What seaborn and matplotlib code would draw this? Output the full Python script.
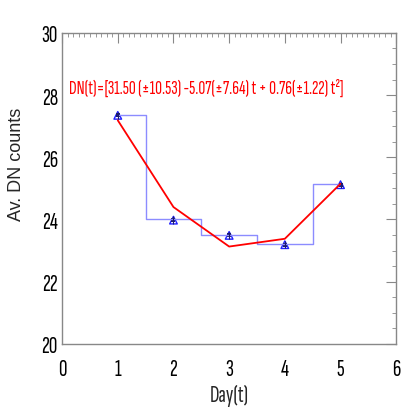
import numpy as np
import pandas as pd
import seaborn as sns
import matplotlib
matplotlib.use("Agg")
import matplotlib.pyplot as plt
from matplotlib.ticker import MultipleLocator

days = [1, 2, 3, 4, 5]
dn_counts = [27.35, 23.98, 23.49, 23.19, 25.12]
dn_step = [27.37, 24.02, 23.51, 23.22, 25.13]
dn_fit = [27.19, 24.40, 23.13, 23.38, 25.15]
dn_err = [0.12, 0.12, 0.12, 0.12, 0.10]
equation = "DN(t)=[31.50 (±10.53) -5.07(±7.64) t + 0.76(±1.22) t²]"

df = pd.DataFrame({"day": days, "counts": dn_counts, "step": dn_step, "fit": dn_fit})

sns.set_style("white")
narrow = ["Sofia Sans Extra Condensed", "DejaVu Sans"]
plt.rcParams["font.family"] = narrow

fig = plt.figure(figsize=(4.14, 4.14), dpi=100)
ax = fig.add_axes([0.150, 0.167, 0.807, 0.751])

ax.plot(df["day"], df["step"], drawstyle="steps-mid", color="#8c8cff", lw=1)
sns.lineplot(data=df, x="day", y="fit", color="red", lw=1.3, ax=ax)
ax.errorbar(df["day"], df["counts"], yerr=dn_err, fmt="none", ecolor="#1a1a6e", lw=0.8)
sns.scatterplot(data=df, x="day", y="counts", marker="^", s=30, facecolor="none",
                edgecolor="#2020ff", linewidth=1, ax=ax)
sns.scatterplot(data=df, x="day", y="counts", marker="s", s=6, color="#1a1a6e",
                linewidth=0, ax=ax)

ax.set_xlim(0, 6)
ax.set_ylim(20, 30)
ax.xaxis.set_major_locator(MultipleLocator(1))
ax.xaxis.set_minor_locator(MultipleLocator(0.1))
ax.yaxis.set_major_locator(MultipleLocator(2))
ax.yaxis.set_minor_locator(MultipleLocator(0.5))
ax.tick_params(which="both", direction="in", top=True, right=True, color="#888888")
ax.tick_params(which="major", length=7, labelsize=17, labelcolor="black")
ax.tick_params(axis="x", which="major", pad=10)
ax.tick_params(axis="y", which="major", pad=3)
ax.tick_params(which="minor", length=3)
for s in ax.spines.values():
    s.set_color("#888888")
    s.set_linewidth(1)

ax.set_xlabel("Day(t)", fontsize=17, labelpad=3)
ax.set_ylabel("Av. DN counts", fontsize=13, family=["Liberation Sans", "DejaVu Sans"])
ax.yaxis.set_label_coords(-0.111, 0.579)

eq = ax.text(0.12, 28.23, equation, color="red", fontsize=12, va="center")
# fit equation width to ~275 px like the original
fig.canvas.draw()
w = eq.get_window_extent().width
eq.set_fontsize(12 * 275 / w)

fig.savefig("out.png", dpi=100)
